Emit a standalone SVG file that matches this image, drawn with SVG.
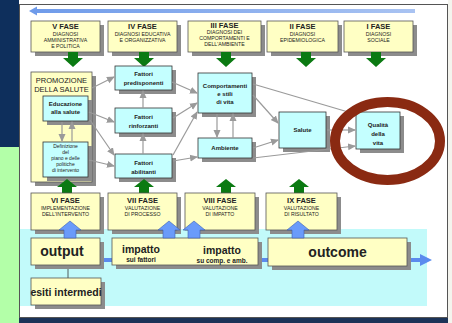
<svg xmlns="http://www.w3.org/2000/svg" width="452" height="323" viewBox="0 0 452 323">
<defs>
<style>
.y{fill:#FFFFC4;stroke:#555;stroke-width:0.8}
.c{fill:#C4FFFF;stroke:#333;stroke-width:0.8}
.sh{fill:#8C8C8C}
.t{font-family:"Liberation Sans",Arial,sans-serif;text-anchor:middle;fill:#222}
.ft{font-size:7.5px;font-weight:bold}
.fs{font-size:5.2px}
.bl{font-size:6px;font-weight:bold}
.con{stroke:#9A9A9A;stroke-width:1.2;fill:none;marker-end:url(#ah)}
</style>
<marker id="ah" markerWidth="8" markerHeight="8" refX="7" refY="4" orient="auto" markerUnits="userSpaceOnUse">
<path d="M0,0.5 L8,4 L0,7.5 z" fill="#9A9A9A"/>
</marker>
<path id="gdown" d="M-5,0 H5 V6 H10 L0,15 L-10,6 H-5 z" fill="#0B7A12"/>
<path id="gup" d="M-5,13 H5 V7 H10 L0,-1 L-10,7 H-5 z" fill="#0B7A12"/>
<path id="bup" d="M-6,17 H6 V9 H11 L0,0 L-11,9 H-6 z" fill="#6A9BFA" stroke="#3D5FB0" stroke-width="0.6"/>
<linearGradient id="topg" x1="0" x2="1" y1="0" y2="0">
<stop offset="0" stop-color="#6F9BEA"/>
<stop offset="1" stop-color="#A9C3F2"/>
</linearGradient>
</defs>

<!-- background -->
<rect x="0" y="0" width="452" height="323" fill="#ffffff"/>
<rect x="0" y="0" width="19" height="147" fill="#0E2F5C"/>
<rect x="0" y="147" width="19" height="176" fill="#B3FFA8"/>
<rect x="19.5" y="4.5" width="428" height="313" fill="#ffffff" stroke="#555" stroke-width="1"/>
<rect x="19" y="318" width="429" height="5" fill="#1C3358"/>
<rect x="448" y="0" width="4" height="323" fill="#f4f4ee"/>

<!-- top arrow -->
<g id="top-arrow">
<rect x="34" y="9" width="381" height="4" fill="url(#topg)"/>
<path d="M29,11 L37,6.5 L37,15.5 z" fill="#6F9BEA"/>
</g>

<!-- cyan band -->
<rect x="20" y="229" width="407" height="77" fill="#C2FAFA"/>

<!-- top phases -->
<g id="fase5">
<rect class="sh" x="35" y="25" width="69" height="31"/>
<rect class="y" x="31" y="21" width="69" height="31"/>
<text class="t ft" x="65.5" y="29">V FASE</text>
<text class="t fs" x="65.5" y="35.5">DIAGNOSI</text>
<text class="t fs" x="65.5" y="41.5">AMMINISTRATIVA</text>
<text class="t fs" x="65.5" y="48">E POLITICA</text>
<use href="#gdown" x="73" y="52"/>
</g>
<g id="fase4">
<rect class="sh" x="112" y="25" width="69" height="31"/>
<rect class="y" x="108" y="21" width="69" height="31"/>
<text class="t ft" x="142.5" y="29">IV FASE</text>
<text class="t fs" x="142.5" y="36">DIAGNOSI EDUCATIVA</text>
<text class="t fs" x="142.5" y="42">E ORGANIZZATIVA</text>
<use href="#gdown" x="144" y="52"/>
</g>
<g id="fase3">
<rect class="sh" x="192" y="25" width="73" height="31"/>
<rect class="y" x="188" y="21" width="73" height="31"/>
<text class="t ft" x="224.5" y="28">III FASE</text>
<text class="t fs" x="224.5" y="34">DIAGNOSI DEI</text>
<text class="t fs" x="224.5" y="40">COMPORTAMENTI E</text>
<text class="t fs" x="224.5" y="46">DELL'AMBIENTE</text>
<use href="#gdown" x="226" y="52"/>
</g>
<g id="fase2">
<rect class="sh" x="271" y="25" width="71" height="31"/>
<rect class="y" x="267" y="21" width="71" height="31"/>
<text class="t ft" x="302.5" y="29">II FASE</text>
<text class="t fs" x="302.5" y="36">DIAGNOSI</text>
<text class="t fs" x="302.5" y="42">EPIDEMIOLOGICA</text>
<use href="#gdown" x="306" y="52"/>
</g>
<g id="fase1">
<rect class="sh" x="348" y="25" width="69" height="31"/>
<rect class="y" x="344" y="21" width="69" height="31"/>
<text class="t ft" x="378.5" y="29">I FASE</text>
<text class="t fs" x="378.5" y="36">DIAGNOSI</text>
<text class="t fs" x="378.5" y="42">SOCIALE</text>
<use href="#gdown" x="376" y="52"/>
</g>

<!-- promozione -->
<g id="promozione">
<rect class="sh" x="35" y="76" width="61" height="110"/>
<rect class="y" x="31" y="72" width="61" height="110"/>
<text class="t" x="61.5" y="83" font-size="7.5">PROMOZIONE</text>
<text class="t" x="61.5" y="92" font-size="7.5">DELLA SALUTE</text>
</g>
<g id="educazione">
<rect class="sh" x="47" y="100" width="45" height="25"/>
<rect class="c" x="43" y="96" width="45" height="25"/>
<text class="t bl" x="65.5" y="106" font-size="5.5">Educazione</text>
<text class="t bl" x="65.5" y="114" font-size="5.5">alla salute</text>
</g>
<g id="definizione">
<rect class="sh" x="47" y="146" width="45" height="35"/>
<rect class="c" x="43" y="142" width="45" height="35"/>
<text class="t" x="65.5" y="148" font-size="5">Definizione</text>
<text class="t" x="65.5" y="154" font-size="5">del</text>
<text class="t" x="65.5" y="160" font-size="5">piano e delle</text>
<text class="t" x="65.5" y="166" font-size="5">politiche</text>
<text class="t" x="65.5" y="172" font-size="5">di intervento</text>
</g>

<g id="predisponenti">
<rect class="sh" x="119" y="70" width="57" height="24"/>
<rect class="c" x="115" y="66" width="57" height="24"/>
<text class="t bl" x="143.5" y="76">Fattori</text>
<text class="t bl" x="143.5" y="85">predisponenti</text>
</g>
<g id="rinforzanti">
<rect class="sh" x="119" y="112" width="57" height="25"/>
<rect class="c" x="115" y="108" width="57" height="25"/>
<text class="t bl" x="143.5" y="119">Fattori</text>
<text class="t bl" x="143.5" y="128">rinforzanti</text>
</g>
<g id="abilitanti">
<rect class="sh" x="119" y="158" width="57" height="24"/>
<rect class="c" x="115" y="154" width="57" height="24"/>
<text class="t bl" x="143.5" y="165">Fattori</text>
<text class="t bl" x="143.5" y="174">abilitanti</text>
</g>
<g id="comportamenti">
<rect class="sh" x="202" y="77" width="54" height="40"/>
<rect class="c" x="198" y="73" width="54" height="40"/>
<text class="t bl" x="225" y="88">Comportamenti</text>
<text class="t bl" x="225" y="96">e stili</text>
<text class="t bl" x="225" y="104">di vita</text>
</g>
<g id="ambiente">
<rect class="sh" x="202" y="142" width="54" height="20"/>
<rect class="c" x="198" y="138" width="54" height="20"/>
<text class="t bl" x="225" y="150">Ambiente</text>
</g>
<g id="salute">
<rect class="sh" x="283" y="116" width="47" height="36"/>
<rect class="c" x="279" y="112" width="47" height="36"/>
<text class="t bl" x="302.5" y="132">Salute</text>
</g>
<g id="qualita">
<rect class="sh" x="360" y="116" width="44" height="37"/>
<rect class="c" x="356" y="112" width="44" height="37"/>
<text class="t bl" x="378" y="127">Qualità</text>
<text class="t bl" x="378" y="136">della</text>
<text class="t bl" x="378" y="145">vita</text>
</g>

<!-- connectors -->
<g id="connectors">
<line class="con" x1="92" y1="88" x2="114" y2="77"/>
<line class="con" x1="89" y1="112" x2="114" y2="122"/>
<line class="con" x1="90" y1="120" x2="114" y2="155"/>
<line class="con" x1="89" y1="160" x2="114" y2="166"/>
<line class="con" x1="62" y1="122" x2="62" y2="141"/>
<line class="con" x1="72" y1="141" x2="72" y2="122"/>
<line class="con" x1="143" y1="108" x2="143" y2="91"/>
<line class="con" x1="143" y1="154" x2="143" y2="134"/>
<line class="con" x1="172" y1="82" x2="197" y2="93"/>
<line class="con" x1="173" y1="118" x2="197" y2="103"/>
<line class="con" x1="173" y1="155" x2="197" y2="112"/>
<line class="con" x1="173" y1="161" x2="197" y2="157"/>
<line class="con" x1="217" y1="114" x2="217" y2="137"/>
<line class="con" x1="233" y1="138" x2="233" y2="114"/>
<line class="con" x1="253" y1="95" x2="278" y2="123"/>
<line class="con" x1="253" y1="148" x2="278" y2="140"/>
<line class="con" x1="253" y1="84" x2="355" y2="114"/>
<line class="con" x1="327" y1="130" x2="355" y2="130"/>
<line class="con" x1="253" y1="158" x2="355" y2="146"/>
</g>

<!-- highlight ellipse -->
<ellipse cx="387.5" cy="141" rx="52.5" ry="39" fill="none" stroke="#8A2A12" stroke-width="10"/>

<!-- bottom phases -->
<g id="fase6">
<use href="#gup" x="67" y="180"/>
<rect class="sh" x="35" y="197" width="69" height="37"/>
<rect class="y" x="31" y="193" width="69" height="37"/>
<text class="t ft" x="65.5" y="203">VI FASE</text>
<text class="t fs" x="65.5" y="210">IMPLEMENTAZIONE</text>
<text class="t fs" x="65.5" y="216">DELL'INTERVENTO</text>
</g>
<g id="fase7">
<use href="#gup" x="144" y="180"/>
<rect class="sh" x="112" y="197" width="69" height="37"/>
<rect class="y" x="108" y="193" width="69" height="37"/>
<text class="t ft" x="142.5" y="203">VII FASE</text>
<text class="t fs" x="142.5" y="210">VALUTAZIONE</text>
<text class="t fs" x="142.5" y="216">DI PROCESSO</text>
</g>
<g id="fase8">
<use href="#gup" x="226" y="180"/>
<rect class="sh" x="189" y="197" width="70" height="37"/>
<rect class="y" x="185" y="193" width="70" height="37"/>
<text class="t ft" x="220" y="203">VIII FASE</text>
<text class="t fs" x="220" y="210">VALUTAZIONE</text>
<text class="t fs" x="220" y="216">DI IMPATTO</text>
</g>
<g id="fase9">
<use href="#gup" x="299" y="180"/>
<rect class="sh" x="270" y="197" width="71" height="37"/>
<rect class="y" x="266" y="193" width="71" height="37"/>
<text class="t ft" x="301.5" y="203">IX FASE</text>
<text class="t fs" x="301.5" y="210">VALUTAZIONE</text>
<text class="t fs" x="301.5" y="216">DI RISULTATO</text>
</g>

<!-- blue timeline -->
<g id="timeline">
<rect x="100" y="258" width="322" height="4" fill="#5B8BEE"/>
<path d="M420,254 L432,260 L420,266 z" fill="#5B8BEE"/>
<line x1="68" y1="265" x2="68" y2="278" stroke="#333" stroke-width="0.8"/>
</g>

<g id="output">
<rect class="sh" x="35" y="242" width="69" height="27"/>
<rect class="y" x="31" y="238" width="69" height="27"/>
<text class="t" x="62" y="256" font-size="14" font-weight="bold">output</text>
</g>
<g id="esiti">
<rect class="sh" x="35" y="282" width="70" height="27"/>
<rect class="y" x="31" y="278" width="70" height="27"/>
<text class="t" x="66" y="296" font-size="10.5" font-weight="bold">esiti intermedi</text>
</g>
<g id="impatto">
<rect class="sh" x="116" y="242" width="146" height="27"/>
<rect class="y" x="112" y="238" width="146" height="27"/>
<text class="t" x="141" y="253" font-size="10.5" font-weight="bold">impatto</text>
<text class="t" x="141" y="262" font-size="6.5" font-weight="bold">sui fattori</text>
<text class="t" x="222" y="254" font-size="10.5" font-weight="bold">impatto</text>
<text class="t" x="222" y="263" font-size="6.5" font-weight="bold">su comp. e amb.</text>
</g>
<g id="outcome">
<rect class="sh" x="272" y="242" width="139" height="28"/>
<rect class="y" x="268" y="238" width="139" height="28"/>
<text class="t" x="337.5" y="257" font-size="14" font-weight="bold">outcome</text>
</g>

<!-- blue up arrows -->
<g id="blue-arrows">
<use href="#bup" x="70" y="221"/>
<use href="#bup" x="169" y="221"/>
<use href="#bup" x="194" y="221"/>
<use href="#bup" x="298" y="221"/>
</g>
</svg>
